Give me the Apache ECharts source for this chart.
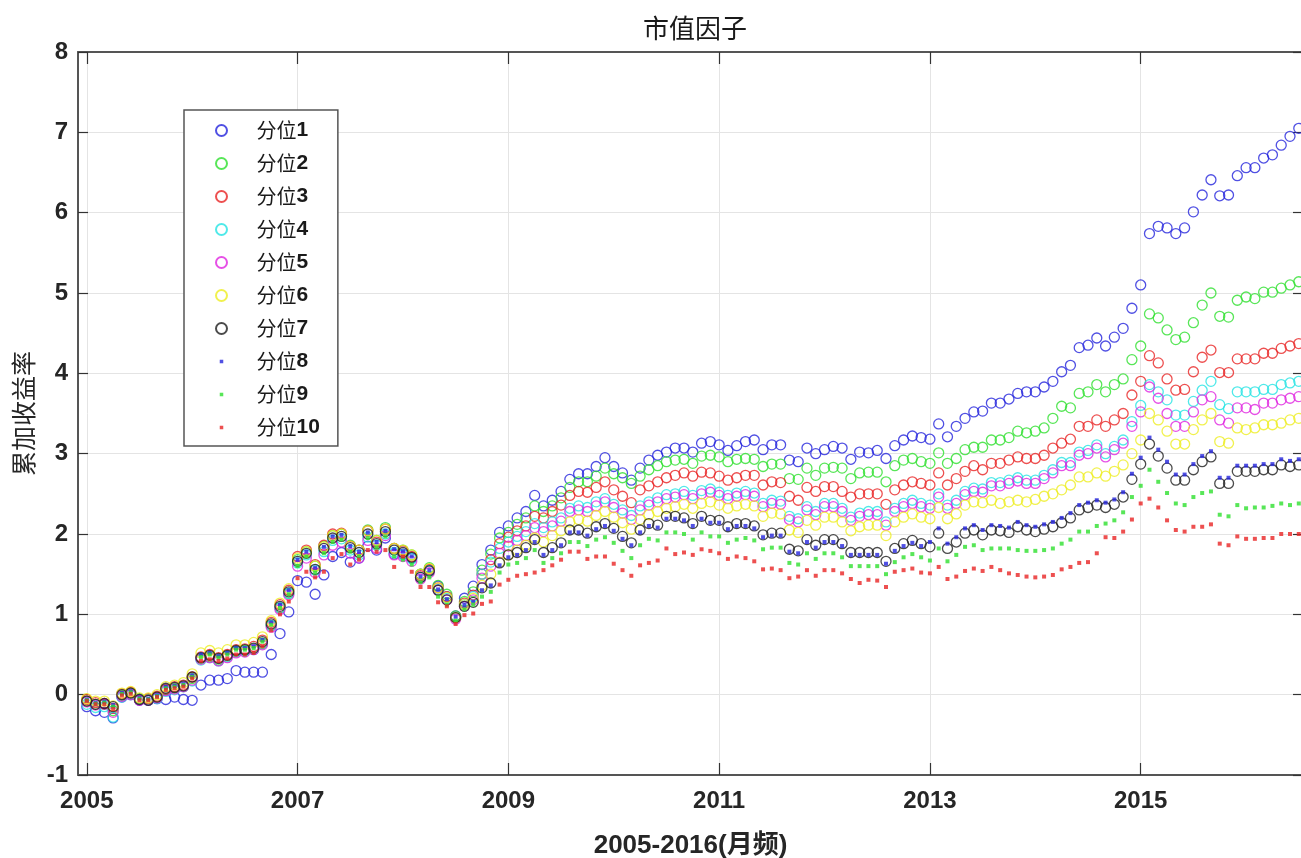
<!DOCTYPE html>
<html>
<head>
<meta charset="UTF-8">
<title>市值因子</title>
<style>
html,body{margin:0;padding:0;background:#fff;}
#main{width:1301px;height:858px;}
</style>
</head>
<body>
<div id="main"></div>
<script src="https://cdn.jsdelivr.net/npm/echarts@6/dist/echarts.min.js"></script>
<script>
// 月频数据：2005-01 起，共139个月
var startYear = 2005;
var yearTicks = [2005, 2007, 2009, 2011, 2013, 2015];
var names = ['分位1','分位2','分位3','分位4','分位5','分位6','分位7','分位8','分位9','分位10'];

var q1 = [-0.15,-0.2,-0.22,-0.29,-0.03,0.0,-0.07,-0.07,-0.05,-0.06,-0.03,-0.06,-0.07,
  0.12,0.18,0.18,0.2,0.3,0.28,0.28,0.28,0.5,0.76,1.03,1.42,
  1.4,1.25,1.49,1.72,1.77,1.65,1.7,1.85,1.8,1.95,1.75,1.75,
  1.7,1.5,1.55,1.35,1.22,0.98,1.2,1.35,1.62,1.8,2.02,2.1,
  2.2,2.28,2.48,2.35,2.42,2.53,2.68,2.75,2.75,2.84,2.95,2.84,
  2.76,2.67,2.82,2.92,2.98,3.02,3.07,3.07,3.02,3.13,3.15,3.11,
  3.04,3.1,
  3.15,3.17,3.05,3.11,3.11,2.92,2.9,3.07,3.0,3.05,3.09,3.07,2.93,3.02,3.01,3.04,2.94,3.1,3.17,3.22,3.2,3.18,3.37,3.21,3.34,3.44,3.52,3.53,3.63,3.63,3.68,3.75,
  3.77,3.77,3.83,3.9,4.02,4.1,
  4.32,4.35,4.44,4.34,4.45,4.56,4.81,5.1,5.74,5.83,5.81,5.74,5.81,6.01,6.22,6.41,6.21,6.22,6.46,6.56,6.56,6.68,6.72,6.84,6.95,7.05];

var q2 = [-0.08,-0.12,-0.12,-0.2,-0.01,0.02,-0.05,-0.06,-0.03,0.06,0.08,0.1,0.2,0.45,0.47,0.43,0.48,0.54,0.55,0.57,0.64,0.86,1.08,1.26,1.68,1.78,1.6,1.85,1.98,2.0,1.86,1.8,2.05,1.92,2.08,1.82,1.8,1.74,1.5,1.58,1.36,1.25,0.98,1.16,1.28,
  1.55,1.75,1.95,2.02,2.12,2.2,2.35,2.28,2.35,2.45,2.58,2.65,2.65,2.72,2.82,2.75,2.7,2.63,2.72,2.8,2.85,2.9,2.92,2.93,2.88,2.97,2.98,2.96,2.9,2.93,
  2.94,2.93,2.84,2.87,2.87,2.69,2.68,2.82,2.73,2.82,2.83,2.82,2.69,2.76,2.77,2.77,2.65,2.85,2.92,2.94,2.9,2.88,3.01,2.88,2.94,3.05,3.08,3.08,3.17,3.17,3.2,3.28,
  3.26,3.28,3.32,3.44,3.59,3.57,3.75,3.77,3.86,3.77,3.86,3.93,4.17,4.34,
  4.74,4.69,4.54,4.42,4.45,4.63,4.85,5.0,4.71,4.7,4.91,4.95,4.93,5.01,5.01,5.06,5.1,5.14];

var q3 = [-0.06,-0.1,-0.11,-0.17,0.01,0.03,-0.06,-0.05,-0.02,0.07,0.1,0.12,0.22,0.47,0.5,0.46,0.5,0.56,0.57,0.6,0.68,0.9,1.12,1.3,1.72,1.8,1.62,1.86,2.0,2.01,1.85,1.8,2.04,1.9,2.06,1.82,1.79,1.72,1.48,1.56,1.33,1.22,0.96,1.14,1.24,
  1.5,1.68,1.88,1.96,2.04,2.1,2.22,2.2,2.28,2.36,2.48,2.53,2.52,2.58,
  2.65,2.55,2.47,2.39,2.55,2.6,2.65,2.7,2.73,2.76,2.72,2.77,2.76,2.72,2.67,2.7,
  2.73,2.73,2.61,2.65,2.64,2.47,2.42,2.58,2.53,2.59,2.59,2.53,2.46,2.5,2.5,2.5,2.37,2.55,2.61,2.65,2.63,2.61,2.76,2.61,2.69,2.78,2.85,2.8,2.88,2.88,2.92,2.96,
  2.94,2.94,2.98,3.07,3.13,3.18,3.34,3.34,3.42,3.34,3.42,3.5,3.73,3.9,
  4.22,4.13,3.93,3.79,3.8,4.02,4.2,4.29,4.01,4.01,4.18,4.18,4.18,4.25,4.25,4.31,4.34,4.37];

var q4 = [-0.12,-0.16,-0.15,-0.28,-0.03,0.0,-0.06,-0.07,-0.05,0.04,0.06,0.1,0.17,0.43,0.46,0.42,0.47,0.53,0.54,0.56,0.63,0.86,1.08,1.26,1.64,1.74,1.55,1.78,1.92,1.94,1.8,1.74,1.96,1.86,2.0,1.77,1.74,1.69,1.46,1.54,1.31,1.2,0.96,1.12,1.22,
  1.5,1.65,1.82,1.9,1.97,2.03,2.13,2.08,2.15,2.2,2.32,2.35,2.33,2.4,2.44,2.37,2.3,2.23,2.35,2.4,2.45,2.49,2.5,2.53,2.48,2.54,2.56,2.52,2.48,2.51,
  2.53,2.51,2.38,2.42,2.41,2.22,2.19,2.34,2.28,2.38,2.38,2.32,2.21,2.26,2.28,2.28,2.15,2.32,2.38,2.42,2.38,2.36,2.5,2.36,2.42,2.53,2.57,2.56,2.64,2.64,2.67,2.7,
  2.67,2.67,2.73,2.8,2.89,2.89,3.02,3.04,3.11,3.0,3.09,3.17,3.4,3.6,
  3.86,3.77,3.67,3.48,3.48,3.65,3.79,3.9,3.61,3.56,3.77,3.77,3.77,3.8,3.8,3.86,3.88,3.9];

var q5 = [-0.09,-0.13,-0.12,-0.22,-0.02,0.0,-0.07,-0.07,-0.04,0.05,0.07,0.1,0.18,0.44,0.46,0.42,0.46,0.52,0.53,0.56,0.62,0.84,1.06,1.24,1.6,1.7,1.52,1.74,1.86,1.9,1.76,1.7,1.92,1.82,1.98,1.74,1.72,1.66,1.44,1.52,1.3,1.18,0.94,1.1,1.18,
  1.45,1.6,1.76,1.85,1.92,1.98,2.08,2.03,2.1,2.16,2.28,2.3,2.28,2.35,2.4,2.33,2.26,2.18,2.3,2.36,2.4,2.44,2.46,2.49,2.44,2.5,2.52,2.48,2.44,2.47,
  2.49,2.47,2.34,2.38,2.37,2.18,2.15,2.3,2.24,2.34,2.34,2.28,2.17,2.22,2.24,2.24,2.11,2.28,2.34,2.38,2.34,2.32,2.46,2.32,2.38,2.49,2.53,2.52,2.6,2.6,2.63,2.66,
  2.63,2.63,2.69,2.76,2.85,2.85,2.98,3.0,3.07,2.96,3.05,3.13,3.34,3.52,
  3.83,3.69,3.5,3.34,3.34,3.52,3.67,3.71,3.42,3.38,3.57,3.57,3.55,3.63,3.63,3.67,3.69,3.71];

var q6 = [-0.05,-0.08,-0.08,-0.14,0.02,0.04,-0.04,-0.04,0.0,0.1,0.12,0.15,0.26,0.52,0.55,0.52,0.56,0.62,0.62,0.65,0.72,0.92,1.14,1.32,1.7,1.78,1.6,1.84,1.98,2.0,1.85,1.8,2.04,1.92,2.06,1.82,1.8,1.74,1.5,1.57,1.33,1.21,0.96,1.12,1.2,
  1.36,1.5,1.65,1.74,1.8,1.86,1.95,1.9,1.98,2.04,2.15,2.18,2.16,2.23,2.28,2.21,2.14,2.06,2.18,2.24,2.28,2.32,2.34,2.37,2.32,2.38,2.4,2.36,2.32,2.35,
  2.37,2.35,2.22,2.26,2.25,2.05,2.02,2.17,2.11,2.21,2.21,2.15,2.04,2.09,2.11,2.11,1.98,2.15,2.21,2.25,2.21,2.19,2.33,2.19,2.25,2.36,2.4,2.39,2.42,2.38,2.4,2.42,
  2.4,2.43,2.47,2.5,2.55,2.61,2.71,2.71,2.76,2.72,2.78,2.86,3.0,3.17,
  3.5,3.42,3.28,3.12,3.12,3.3,3.42,3.5,3.15,3.13,3.32,3.3,3.32,3.36,3.36,3.38,3.42,3.44];

var q7 = [-0.08,-0.12,-0.11,-0.15,0.0,0.02,-0.06,-0.07,-0.03,0.08,0.09,0.11,0.22,0.46,0.49,0.45,0.49,0.55,0.56,0.58,0.66,0.88,1.1,1.28,1.66,1.76,1.56,1.82,1.95,1.97,1.83,1.77,2.0,1.88,2.03,1.8,1.77,1.71,1.46,1.54,1.3,1.18,0.96,1.1,1.15,
  1.33,1.39,
  1.64,1.74,1.77,1.83,1.93,1.77,1.83,1.89,2.05,2.05,2.01,2.09,2.13,2.07,1.97,1.89,2.05,2.13,2.11,2.22,2.22,2.2,2.13,2.22,2.17,2.17,2.09,2.13,
  2.13,2.1,1.99,2.01,2.01,1.81,1.79,1.93,1.86,1.93,1.93,1.88,1.77,1.77,1.77,1.77,1.66,1.82,1.88,1.92,1.88,1.84,2.01,1.82,1.9,2.01,2.05,1.99,2.05,2.04,2.02,2.09,
  2.05,2.03,2.06,2.09,2.14,2.2,2.3,2.33,2.36,2.33,2.37,2.46,2.68,2.87,
  3.12,2.97,2.82,2.67,2.67,2.8,2.9,2.96,2.63,2.63,2.78,2.78,2.78,2.8,2.8,2.86,2.84,2.86];

var q8 = [-0.06,-0.1,-0.09,-0.13,0.02,0.04,-0.04,-0.05,-0.01,0.1,0.11,0.13,0.24,0.5,0.52,0.48,0.52,0.58,0.58,0.6,0.68,0.9,1.12,1.3,1.68,1.78,1.58,1.84,1.97,1.99,1.85,1.78,2.02,1.9,2.04,1.81,1.78,1.72,1.47,1.55,1.31,1.19,0.97,1.11,1.16,
  1.3,1.36,
  1.61,1.71,1.74,1.8,1.9,1.74,1.8,1.86,2.02,2.02,1.98,2.06,2.1,2.04,1.94,1.86,2.02,2.1,2.08,2.19,2.19,2.17,2.1,2.19,2.14,2.14,2.06,2.1,
  2.1,2.07,1.96,1.98,1.98,1.78,1.76,1.9,1.83,1.9,1.9,1.85,1.74,1.74,1.74,1.74,1.63,1.79,1.85,1.89,1.85,
  1.9,2.07,1.88,1.96,2.07,2.11,2.05,2.11,2.1,2.08,2.15,
  2.11,2.09,2.12,2.15,2.2,2.26,2.36,2.39,2.42,2.39,2.43,2.52,2.75,2.95,
  3.2,3.05,2.9,2.74,2.74,2.87,2.97,3.03,2.7,2.7,2.85,2.85,2.85,2.87,2.87,2.93,2.91,2.93];

var q9 = [-0.07,-0.11,-0.1,-0.15,0.01,0.03,-0.05,-0.06,-0.02,0.08,0.1,0.12,0.22,0.47,0.5,0.46,0.5,0.56,0.56,0.58,0.66,0.87,1.08,1.25,1.6,1.72,1.52,1.76,1.9,1.93,1.78,1.72,1.95,1.83,1.97,1.72,1.68,1.62,1.4,1.46,1.22,1.12,0.92,1.06,1.12,
  1.22,1.28,1.52,1.62,1.64,1.7,1.8,1.64,1.7,1.76,1.9,1.9,1.85,1.93,1.96,1.89,1.79,1.7,1.86,1.94,1.92,2.02,2.02,2.0,1.93,2.02,1.97,1.97,1.89,1.93,
  1.95,1.92,1.81,1.83,1.83,1.64,1.62,1.76,1.69,1.76,1.76,1.71,1.6,1.6,1.6,1.6,1.5,1.65,1.71,1.75,1.71,1.67,1.82,1.66,1.74,1.84,1.86,1.8,1.82,1.82,1.82,1.8,
  1.79,1.79,1.8,1.82,1.88,1.93,2.03,2.03,2.1,2.13,2.17,2.27,2.46,2.6,2.8,2.65,2.51,2.38,2.36,2.46,2.51,2.53,2.24,2.22,2.36,2.32,2.33,2.33,2.35,2.38,2.36,2.38];

var q10 = [-0.08,-0.12,-0.12,-0.18,-0.01,0.01,-0.07,-0.07,-0.03,0.06,0.08,0.1,0.2,0.42,0.44,0.42,0.45,0.5,0.5,0.52,0.6,0.8,1.0,1.16,1.45,1.53,1.46,1.53,1.7,1.75,1.62,1.68,1.8,1.78,1.8,1.59,1.72,1.53,1.34,1.34,1.15,1.1,0.88,0.99,1.01,
  1.13,1.16,1.37,1.43,1.48,1.5,1.52,1.55,1.61,1.68,1.78,1.78,1.69,1.72,1.72,1.63,1.55,1.48,1.61,1.64,1.67,1.82,1.75,1.77,1.74,1.81,1.79,1.76,1.69,1.72,
  1.7,1.66,1.56,1.57,1.55,1.45,1.47,1.55,1.48,1.55,1.55,1.51,1.44,1.39,1.43,1.42,1.34,1.53,1.55,1.57,1.52,1.51,1.59,1.44,1.47,1.54,1.57,1.54,1.59,1.55,1.51,1.49,
  1.47,1.46,1.47,1.49,1.56,1.59,1.64,1.65,1.76,1.96,1.95,2.03,2.18,2.38,2.44,2.33,2.17,2.05,
  2.03,2.09,2.09,2.12,1.88,1.86,1.97,1.94,1.94,1.95,1.95,2.0,2.0,2.0];

var allValues = [q1,q2,q3,q4,q5,q6,q7,q8,q9,q10];
var colors = ['#2424dc','#2ee02e','#e82424','#24e4e4','#e024e0','#eeee22','#1e1e1e','#2424dc','#2ee02e','#e82424'];

var fontEn = '"Liberation Sans", Arial, "Noto Sans CJK SC", sans-serif';
var fontCn = '"Noto Sans CJK SC", "Liberation Sans", sans-serif';
var xMin = startYear - 1/12, xMax = 2016.54;
var dotIcon = 'path://M0,0M10,10M3.4,3.4h3.2v3.2h-3.2z';

var myChart = echarts.init(document.getElementById('main'));

var series = [];
var legendData = [];
for (var k = 0; k < 10; k++) {
	var pts = [];
	for (var i = 0; i < allValues[k].length; i++) {
		pts.push([startYear + i / 12, allValues[k][i]]);
	}
	var isDot = k >= 7;
	series.push({
		name: names[k],
		type: 'scatter',
		data: pts,
		symbol: isDot ? 'rect' : 'circle',
		symbolSize: isDot ? 4 : 10,
		itemStyle: isDot ? { color: colors[k] } : { color: 'rgba(0,0,0,0)', borderColor: colors[k], borderWidth: 1.3 },
		emphasis: { disabled: true },
		clip: false
	});
	legendData.push(isDot ? { name: names[k], icon: dotIcon } : { name: names[k] });
}

function boxAxis(pos, isX) {
	var ax = {
		type: 'value', position: pos, min: isX ? xMin : -1, max: isX ? xMax : 8,
		axisLine: { show: true, onZero: false, lineStyle: { color: '#555', width: 2 } },
		axisTick: { show: true, inside: true, length: isX ? 12 : 10, lineStyle: { color: '#333', width: 1.2 } },
		axisLabel: { show: false },
		splitLine: { show: false }
	};
	if (isX) {
		ax.axisTick.customValues = yearTicks;
		ax.axisLabel.customValues = yearTicks;
	} else {
		ax.interval = 1;
	}
	return ax;
}

var xBottom = boxAxis('bottom', true);
xBottom.axisLabel = {
	show: true, customValues: yearTicks, margin: 14, fontSize: 24, fontWeight: 'bold', color: '#262626', fontFamily: fontEn,
	formatter: function (v) { return String(v); }
};
xBottom.splitLine = { show: true, lineStyle: { color: '#e4e4e4', width: 1 } };
xBottom.name = '2005-2016(月频)';
xBottom.nameLocation = 'middle';
xBottom.nameGap = 58;
xBottom.nameTextStyle = { fontSize: 26, fontWeight: 'bold', color: '#262626', fontFamily: fontEn };

var yLeft = boxAxis('left', false);
yLeft.axisLabel = { show: true, margin: 10, fontSize: 24, fontWeight: 'bold', color: '#262626', fontFamily: fontEn };
yLeft.splitLine = { show: true, lineStyle: { color: '#e4e4e4', width: 1 } };
yLeft.name = '累加收益率';
yLeft.nameLocation = 'middle';
yLeft.nameGap = 40;
yLeft.nameTextStyle = { fontSize: 25, color: '#262626', fontFamily: fontCn };

var option = {
	animation: false,
	backgroundColor: '#fff',
	title: {
		text: '市值因子',
		left: 690,
		top: 10,
		textAlign: 'center',
		textStyle: { fontSize: 26, fontWeight: 'normal', color: '#1a1a1a', fontFamily: fontCn }
	},
	grid: { left: 78, right: -2, top: 52, bottom: 83, containLabel: false, outerBoundsMode: 'none' },
	legend: {
		data: legendData,
		orient: 'vertical',
		left: 184,
		top: 110,
		itemWidth: 60,
		itemHeight: 11,
		itemGap: 12,
		padding: [10, 18, 8, 31],
		backgroundColor: '#fff',
		borderColor: '#555',
		borderWidth: 1.5,
		selectedMode: false,
		formatter: function (name) {
			return '{a|' + name.slice(0, 2) + '}{b|' + name.slice(2) + '}';
		},
		textStyle: {
			color: '#1a1a1a',
			rich: {
				a: { fontSize: 20, fontFamily: fontCn, color: '#1a1a1a', lineHeight: 21 },
				b: { fontSize: 21, fontWeight: 'bold', fontFamily: fontEn, color: '#1a1a1a', lineHeight: 21 }
			}
		}
	},
	xAxis: [xBottom, boxAxis('top', true)],
	yAxis: [yLeft, boxAxis('right', false)],
	series: series
};
myChart.setOption(option);
</script>
</body>
</html>
